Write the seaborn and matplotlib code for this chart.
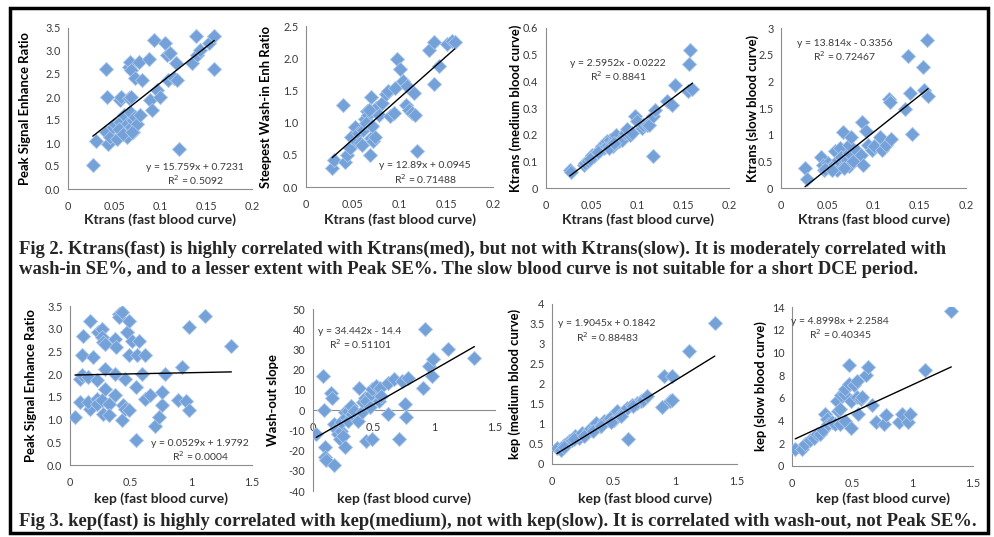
import numpy as np
import pandas as pd
import matplotlib
matplotlib.use("Agg")
import matplotlib.pyplot as plt
import seaborn as sns
from matplotlib.patches import Rectangle
from matplotlib.ticker import FuncFormatter, MultipleLocator

sns.set_style("white")
plt.rcParams['font.family'] = ['Lato', 'DejaVu Sans']

# ---- data ----
# Fig 2: x = Ktrans (fast blood curve)
p1_x = [0.027, 0.030, 0.041, 0.042, 0.041, 0.044, 0.046, 0.049, 0.053, 0.051, 0.057, 0.057, 0.058, 0.061,
        0.063, 0.064, 0.064, 0.066, 0.066, 0.067, 0.068, 0.069, 0.067, 0.069, 0.071, 0.071, 0.073, 0.073,
        0.075, 0.077, 0.078, 0.080, 0.088, 0.089, 0.091, 0.093, 0.097, 0.100, 0.105, 0.108, 0.111, 0.109,
        0.115, 0.117, 0.119, 0.121, 0.135, 0.139, 0.140, 0.144, 0.153, 0.159, 0.159, 0.055, 0.060, 0.070]
p1_y = [0.53, 1.05, 2.61, 2.00, 1.24, 0.98, 1.13, 1.35, 1.09, 1.42, 1.46, 1.93, 2.00, 1.60,
        1.28, 1.42, 1.13, 1.97, 2.66, 2.77, 2.59, 2.00, 1.68, 1.35, 1.24, 1.49, 2.41, 1.57,
        1.42, 2.77, 1.60, 2.37, 2.82, 1.93, 1.71, 3.23, 2.15, 2.00, 3.17, 2.92, 2.95, 2.37,
        2.41, 2.73, 2.37, 0.87, 2.73, 3.32, 2.92, 3.03, 3.17, 3.32, 2.60, 1.30, 1.20, 1.25]

p2_x = [0.028, 0.030, 0.040, 0.042, 0.044, 0.047, 0.048, 0.052, 0.054, 0.056, 0.058, 0.060, 0.061, 0.063,
        0.065, 0.066, 0.068, 0.069, 0.070, 0.070, 0.072, 0.074, 0.075, 0.078, 0.081, 0.086, 0.088, 0.090,
        0.094, 0.095, 0.097, 0.100, 0.104, 0.107, 0.108, 0.110, 0.113, 0.116, 0.117, 0.119, 0.132, 0.137,
        0.137, 0.142, 0.151, 0.156, 0.159, 0.064, 0.067, 0.071]
p2_y = [0.29, 0.42, 1.28, 0.39, 0.50, 0.60, 0.78, 0.93, 0.71, 0.84, 0.68, 0.65, 0.89, 1.05,
        1.18, 1.12, 0.50, 1.39, 0.97, 0.76, 0.71, 0.78, 1.23, 1.12, 1.31, 1.44, 1.49, 1.10,
        1.15, 1.53, 1.99, 1.83, 1.65, 1.28, 1.57, 1.20, 1.15, 1.46, 1.12, 0.56, 2.12, 2.25,
        1.60, 1.88, 2.22, 2.26, 2.25, 1.00, 1.20, 0.95]

p3_x = [0.026, 0.027, 0.041, 0.043, 0.046, 0.050, 0.052, 0.055, 0.059, 0.061, 0.063, 0.064, 0.066, 0.067,
        0.068, 0.070, 0.072, 0.073, 0.075, 0.077, 0.080, 0.083, 0.086, 0.088, 0.092, 0.094, 0.097, 0.099,
        0.105, 0.106, 0.110, 0.113, 0.117, 0.117, 0.119, 0.132, 0.138, 0.141, 0.155, 0.157, 0.156, 0.160,
        0.048, 0.057, 0.069, 0.074]
p3_y = [0.066, 0.059, 0.088, 0.094, 0.100, 0.125, 0.120, 0.130, 0.144, 0.156, 0.150, 0.169, 0.156, 0.175,
        0.163, 0.180, 0.169, 0.156, 0.190, 0.200, 0.175, 0.180, 0.206, 0.220, 0.200, 0.206, 0.270, 0.250,
        0.225, 0.237, 0.237, 0.237, 0.269, 0.119, 0.294, 0.325, 0.310, 0.387, 0.362, 0.517, 0.465, 0.371,
        0.110, 0.135, 0.150, 0.170]

p4_x = [0.026, 0.028, 0.043, 0.045, 0.046, 0.051, 0.053, 0.056, 0.058, 0.060, 0.062, 0.064, 0.065, 0.067,
        0.069, 0.071, 0.073, 0.073, 0.074, 0.076, 0.078, 0.082, 0.087, 0.088, 0.089, 0.092, 0.094, 0.098,
        0.101, 0.107, 0.109, 0.114, 0.117, 0.118, 0.119, 0.134, 0.137, 0.139, 0.142, 0.154, 0.155, 0.158,
        0.159, 0.048, 0.055, 0.068]
p4_y = [0.38, 0.16, 0.59, 0.44, 0.34, 0.47, 0.38, 0.41, 0.69, 0.34, 0.53, 0.75, 0.59, 1.05,
        0.44, 0.53, 0.66, 0.41, 0.81, 0.95, 0.50, 0.69, 0.62, 1.24, 0.44, 1.06, 0.81, 0.72,
        0.78, 0.95, 0.72, 0.81, 1.66, 1.62, 0.91, 1.48, 2.47, 1.78, 1.02, 2.26, 1.84, 2.77,
        1.73, 0.36, 0.33, 0.38]

# Fig 3: x = kep (fast blood curve)
p5_x = [0.041, 0.110, 0.096, 0.082, 0.096, 0.082, 0.165, 0.151, 0.165, 0.151, 0.19, 0.22, 0.22, 0.22,
        0.23, 0.26, 0.26, 0.27, 0.29, 0.29, 0.29, 0.26, 0.27, 0.32, 0.32, 0.37, 0.37, 0.37,
        0.38, 0.40, 0.40, 0.43, 0.44, 0.45, 0.43, 0.45, 0.47, 0.49, 0.49, 0.49, 0.51, 0.54,
        0.54, 0.55, 0.57, 0.59, 0.62, 0.62, 0.66, 0.70, 0.73, 0.76, 0.76, 0.78, 0.89, 0.92,
        0.96, 0.98, 0.98, 1.11, 1.33]
p5_y = [1.06, 2.85, 2.42, 1.90, 1.98, 1.39, 3.18, 1.94, 1.24, 1.39, 2.38, 1.87, 1.46, 1.35,
        2.93, 3.00, 2.82, 2.71, 2.67, 2.12, 1.68, 1.43, 1.13, 1.35, 1.10, 2.01, 1.54, 2.78,
        2.60, 3.33, 3.26, 3.37, 1.32, 1.90, 0.99, 1.24, 2.93, 3.18, 1.21, 2.42, 2.72, 1.72,
        0.55, 2.42, 2.74, 2.01, 2.42, 1.45, 1.54, 0.86, 1.06, 1.32, 1.61, 2.01, 1.43, 2.16,
        1.41, 1.21, 3.04, 3.27, 2.62]

p6_x = [0.027, 0.082, 0.090, 0.096, 0.096, 0.104, 0.151, 0.157, 0.173, 0.173, 0.19, 0.21, 0.22, 0.23,
        0.23, 0.25, 0.26, 0.26, 0.27, 0.29, 0.29, 0.31, 0.32, 0.34, 0.37, 0.38, 0.40, 0.41,
        0.43, 0.44, 0.44, 0.47, 0.48, 0.49, 0.49, 0.52, 0.54, 0.55, 0.56, 0.62, 0.62, 0.67,
        0.71, 0.73, 0.76, 0.77, 0.78, 0.91, 0.92, 0.96, 0.98, 0.99, 1.11, 1.33]
p6_y = [-11.8, 16.9, 0.0, -18.0, -23.3, -24.6, 8.7, 6.2, -6.9, -26.9, -9.3, -11.8, -14.3, -10.2,
        -6.1, -12.6, -18.4, -1.1, -3.6, -0.3, -5.2, 2.1, -2.0, -0.3, -5.2, 11.1, -1.1, 3.8,
        6.2, -15.1, 4.6, 1.6, 7.9, -14.3, 10.3, 12.0, 4.6, 11.1, 7.0, 13.6, -2.0, 15.2,
        -14.3, 14.4, 3.0, -3.6, 16.0, 11.1, 40.3, 21.8, 16.9, 25.1, 30.3, 25.6]

p7_x = [0.04, 0.07, 0.095, 0.135, 0.16, 0.19, 0.22, 0.24, 0.27, 0.30, 0.34, 0.36, 0.39, 0.42,
        0.45, 0.47, 0.50, 0.53, 0.55, 0.58, 0.61, 0.62, 0.65, 0.69, 0.72, 0.74, 0.77, 0.89,
        0.91, 0.96, 0.97, 0.97, 1.11, 1.32, 0.10, 0.18, 0.26, 0.33, 0.40, 0.48, 0.56, 0.66]
p7_y = [0.40, 0.36, 0.48, 0.57, 0.61, 0.69, 0.65, 0.78, 0.73, 0.86, 0.90, 1.03, 0.94, 1.07,
        1.11, 1.15, 1.11, 1.32, 1.23, 1.32, 1.40, 0.63, 1.48, 1.53, 1.57, 1.61, 1.69, 1.42,
        2.19, 1.57, 1.61, 2.19, 2.82, 3.53, 0.42, 0.62, 0.70, 0.82, 0.95, 1.05, 1.20, 1.45]

p8_x = [0.027, 0.082, 0.11, 0.15, 0.18, 0.21, 0.23, 0.26, 0.27, 0.29, 0.30, 0.33, 0.36, 0.37,
        0.38, 0.40, 0.40, 0.41, 0.43, 0.44, 0.44, 0.47, 0.47, 0.49, 0.49, 0.51, 0.54, 0.54,
        0.55, 0.57, 0.58, 0.61, 0.63, 0.66, 0.70, 0.76, 0.78, 0.89, 0.91, 0.96, 0.98, 1.10, 1.32]
p8_y = [1.47, 1.53, 1.97, 2.26, 2.47, 2.85, 2.85, 3.14, 4.55, 4.17, 3.73, 3.88, 3.73, 5.73,
        4.85, 4.99, 3.73, 6.23, 6.37, 6.81, 3.96, 8.87, 7.25, 5.73, 3.35, 7.10, 7.46, 6.08,
        4.58, 5.93, 6.08, 7.99, 8.72, 5.34, 3.88, 3.73, 4.46, 3.88, 4.61, 3.88, 4.55, 8.43, 13.66]

# trendline equations printed on the chart (slope, intercept, R²)
p1_fit = (15.759, 0.7231, '0.5092')
p2_fit = (12.89, 0.0945, '0.71488')
p3_fit = (2.5952, -0.0222, '0.8841')
p4_fit = (13.814, -0.3356, '0.72467')
p5_fit = (0.0529, 1.9792, '0.0004')
p6_fit = (34.442, -14.4, '0.51101')
p7_fit = (1.9045, 0.1842, '0.88483')
p8_fit = (4.8998, 2.2584, '0.40345')

ktrans_label = 'Ktrans (fast blood curve)'
kep_label = 'kep (fast blood curve)'
caption2 = ['Fig 2. Ktrans(fast) is highly correlated with Ktrans(med), but not with Ktrans(slow). It is moderately correlated with',
            'wash-in SE%, and to a lesser extent with Peak SE%. The slow blood curve is not suitable for a short DCE period.']
caption3 = 'Fig 3. kep(fast) is highly correlated with kep(medium), not with kep(slow). It is correlated with wash-out, not Peak SE%.'

W, H = 994, 537
fig = plt.figure(figsize=(W / 100, H / 100), dpi=100)

AXIS_GRAY = '#8c8c8c'
TXT = '#3a3a3a'
fmt_g = FuncFormatter(lambda v, p: f'{v:g}')
fmt_1 = FuncFormatter(lambda v, p: f'{v:.1f}')


def fmt_eq(slope, icpt):
    sign = '+' if icpt >= 0 else '-'
    return f'y = {slope:g}x {sign} {abs(icpt):g}'


def panel(box, xs, ys, fit, xlim, xstep, ylim, ystep, yfmt, ylabel, xlabel,
          ylab_px, eq_px, xlab_px, xzero=False):
    l, r, t, b = box
    ax = fig.add_axes([l / W, 1 - b / H, (r - l) / W, (b - t) / H])
    df = pd.DataFrame({'x': xs, 'y': ys})
    sns.scatterplot(data=df, x='x', y='y', ax=ax, marker='D', s=52,
                    color='#75a1d9', edgecolor='#a9c6ea', linewidth=0.6, zorder=3)
    slope, icpt, r2 = fit
    xl = np.array([min(xs), max(xs)])
    ax.plot(xl, slope * xl + icpt, color='black', lw=1.0, zorder=4)
    ax.set_xlim(*xlim)
    ax.set_ylim(*ylim)
    ax.xaxis.set_major_locator(MultipleLocator(xstep))
    ax.yaxis.set_major_locator(MultipleLocator(ystep))
    ax.xaxis.set_major_formatter(fmt_g)
    ax.yaxis.set_major_formatter(yfmt)
    for side in ['top', 'right']:
        ax.spines[side].set_visible(False)
    for side in ['left', 'bottom']:
        ax.spines[side].set_color(AXIS_GRAY)
        ax.spines[side].set_linewidth(0.8)
    if xzero:
        ax.spines['bottom'].set_position(('data', 0))
    ax.tick_params(axis='both', direction='out', length=3.5, width=0.8,
                   color=AXIS_GRAY, labelcolor=TXT, labelsize=7.8, pad=2)
    ax.tick_params(axis='x', pad=5)
    ax.set_ylabel(ylabel, fontsize=9.4, fontweight='bold', color='black')
    ax.yaxis.set_label_coords((ylab_px - l) / (r - l), 0.5)
    ax.set_xlabel('')
    fig.text((l + r) / 2 / W, 1 - xlab_px / H, xlabel,
             ha='center', va='center', fontsize=10, fontweight='bold')
    ex, ey = eq_px
    fig.text(ex / W, 1 - ey / H, fmt_eq(slope, icpt), ha='center', va='center',
             fontsize=7.5, color=TXT)
    fig.text(ex / W, 1 - (ey + 13) / H, 'R$^2$ = ' + r2, ha='center', va='center',
             fontsize=7.5, color=TXT)
    return ax


panel((68, 252, 28, 189), p1_x, p1_y, p1_fit, (0, 0.2), 0.05, (0, 3.5), 0.5, fmt_1,
      'Peak Signal Enhance Ratio', ktrans_label, 31, (195, 167), 220)
panel((306, 493, 26, 187), p2_x, p2_y, p2_fit, (0, 0.2), 0.05, (0, 2.5), 0.5, fmt_1,
      'Steepest Wash-in Enh Ratio', ktrans_label, 272, (425, 166), 220)
panel((546, 729, 28, 188), p3_x, p3_y, p3_fit, (0, 0.2), 0.05, (0, 0.6), 0.1, fmt_g,
      'Ktrans (medium blood curve)', ktrans_label, 522, (618, 63), 220)
panel((781, 966, 28, 188), p4_x, p4_y, p4_fit, (0, 0.2), 0.05, (0, 3), 0.5, fmt_g,
      'Ktrans (slow blood curve)', ktrans_label, 759, (845, 43), 220)

panel((70, 252, 306, 465), p5_x, p5_y, p5_fit, (0, 1.5), 0.5, (0, 3.5), 0.5, fmt_1,
      'Peak Signal Enhance Ratio', kep_label, 37, (200, 443), 499)
panel((313, 495, 309, 491), p6_x, p6_y, p6_fit, (0, 1.5), 0.5, (-40, 50), 10, fmt_g,
      'Wash-out slope', kep_label, 279, (360, 331), 499, xzero=True)
panel((552, 737, 304, 464), p7_x, p7_y, p7_fit, (0, 1.5), 0.5, (0, 4), 0.5, fmt_g,
      'kep (medium blood curve)', kep_label, 521, (607, 324), 499)
panel((792, 973, 307, 466), p8_x, p8_y, p8_fit, (0, 1.5), 0.5, (0, 14), 2, fmt_g,
      'kep (slow blood curve)', kep_label, 767, (840, 321), 499)

# captions
cap_kw = dict(ha='left', va='center', fontsize=13.4, fontweight='bold',
              family=['Liberation Serif', 'DejaVu Serif'])
fig.text(19 / W, 1 - 249 / H, caption2[0], **cap_kw)
fig.text(19 / W, 1 - 269 / H, caption2[1], **cap_kw)
fig.text(19 / W, 1 - 521 / H, caption3, **cap_kw)

# outer frame
fig.patches.append(Rectangle((10 / W, 1 - 533 / H), 978 / W, 525 / H, transform=fig.transFigure,
                             fill=False, edgecolor='black', linewidth=2.5))

fig.savefig('out.png', dpi=100)
